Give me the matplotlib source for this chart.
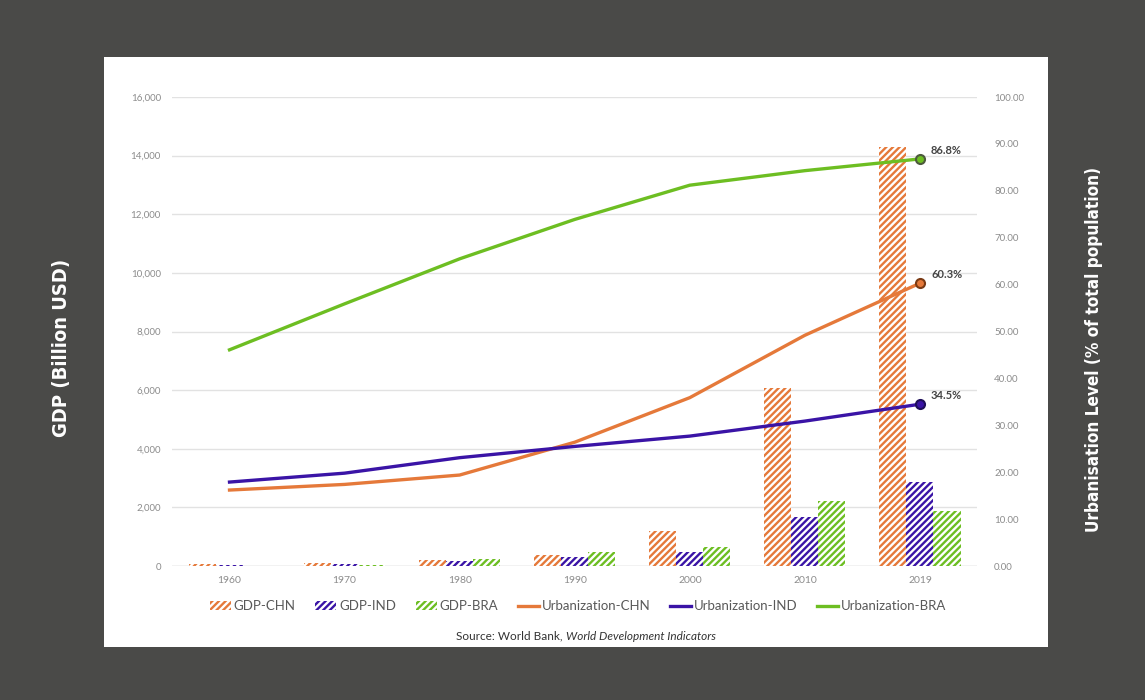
import matplotlib.pyplot as plt
from matplotlib.patches import Patch, Rectangle
from matplotlib.lines import Line2D
import numpy as np

years = ['1960', '1970', '1980', '1990', '2000', '2010', '2019']

gdp_chn = [59.7, 92.6, 191, 361, 1211, 6087, 14280]
gdp_ind = [37, 62, 186, 321, 468, 1676, 2870]
gdp_bra = [17, 42, 235, 462, 655, 2209, 1877]

urb_chn = [16.2, 17.4, 19.4, 26.4, 35.9, 49.2, 60.3]
urb_ind = [17.9, 19.8, 23.1, 25.5, 27.7, 30.9, 34.5]
urb_bra = [46.1, 55.9, 65.5, 73.9, 81.2, 84.3, 86.8]

c_chn = '#E5793A'
c_ind = '#3A14A6'
c_bra = '#6DBE22'
tick_gray = '#8c8c8c'
hatch = '/////'

plt.rcParams['hatch.linewidth'] = 1.7
plt.rcParams['font.family'] = ['Lato', 'DejaVu Sans']

fig = plt.figure(figsize=(11.45, 7.0), dpi=100, facecolor='#4a4a48')
# white panel behind the chart
fig.add_artist(Rectangle((104 / 1145, 53 / 700), 944 / 1145, 590 / 700,
                         transform=fig.transFigure, facecolor='white',
                         edgecolor='none', zorder=0))

ax = fig.add_axes([0.1502, 0.1914, 0.7035, 0.67])
ax.set_facecolor('none')
x = np.arange(len(years))
w = 0.235

for off, vals, col in [(-w, gdp_chn, c_chn), (0, gdp_ind, c_ind), (w, gdp_bra, c_bra)]:
    ax.bar(x + off, vals, width=w, facecolor='white', edgecolor=col,
           hatch=hatch, linewidth=0, zorder=2)

ax.set_ylim(0, 16000)
ax.set_xlim(-0.5, len(years) - 0.5)
ax.set_yticks(np.arange(0, 16001, 2000))
ax.set_yticklabels([f'{v:,}' for v in range(0, 16001, 2000)])
ax.grid(axis='y', color='#e2e2e2', linewidth=1.0, zorder=0)
ax.set_axisbelow(True)
ax.set_xticks(x)
ax.set_xticklabels(years)
for s in ax.spines.values():
    s.set_visible(False)
ax.axhline(0, color='#d9d9d9', linewidth=1.0, zorder=1)
ax.tick_params(axis='both', length=0, colors=tick_gray, labelsize=7)
ax.tick_params(axis='x', labelsize=7.5, pad=7)
ax.tick_params(axis='y', pad=8)

ax2 = ax.twinx()
ax2.set_ylim(0, 100)
ax2.set_yticks(np.arange(0, 101, 10))
ax2.set_yticklabels([f'{v:.2f}' for v in range(0, 101, 10)])
for s in ax2.spines.values():
    s.set_visible(False)
ax2.tick_params(axis='y', length=0, colors=tick_gray, labelsize=7, pad=12)

for vals, col, edge in [(urb_bra, c_bra, '#4d5a3c'), (urb_chn, c_chn, '#7a3a14'),
                        (urb_ind, c_ind, '#1e0e5a')]:
    ax2.plot(x, vals, color=col, linewidth=2.4, zorder=3)
    ax2.plot(x[-1], vals[-1], 'o', markersize=6.5, markerfacecolor=col,
             markeredgecolor=edge, markeredgewidth=1.5, zorder=4)
    ax2.annotate(f'{vals[-1]}%', (x[-1], vals[-1]), xytext=(8, 2),
                 textcoords='offset points', fontsize=8, color='#444444',
                 fontweight='bold', va='bottom', ha='left')

handles = [
    Patch(facecolor='white', edgecolor=c_chn, hatch=hatch, linewidth=0),
    Patch(facecolor='white', edgecolor=c_ind, hatch=hatch, linewidth=0),
    Patch(facecolor='white', edgecolor=c_bra, hatch=hatch, linewidth=0),
    Line2D([], [], color=c_chn, linewidth=2.4),
    Line2D([], [], color=c_ind, linewidth=2.4),
    Line2D([], [], color=c_bra, linewidth=2.4),
]
labels = ['GDP-CHN', 'GDP-IND', 'GDP-BRA', 'Urbanization-CHN',
          'Urbanization-IND', 'Urbanization-BRA']
leg = fig.legend(handles, labels, loc='center', bbox_to_anchor=(578 / 1145, 94 / 700),
                 ncol=6, frameon=False, fontsize=9.5, handlelength=1.6,
                 handleheight=0.6, handletextpad=0.2, columnspacing=1.5)
for t in leg.get_texts():
    t.set_color('#595959')

fig.text(566 / 1145, 64 / 700, 'Source: World Bank, ', ha='right', va='center',
         fontsize=8.5, color='#333333')
fig.text(566 / 1145, 64 / 700, 'World Development Indicators', ha='left',
         va='center', fontsize=8.5, color='#333333', style='italic')

fig.text(62 / 1145, 352 / 700, 'GDP (Billion USD)', rotation=90, ha='center',
         va='center', color='white', fontsize=14.5, fontweight='bold',
         family='DejaVu Sans', fontstretch='condensed')
fig.text(1094 / 1145, 351 / 700, 'Urbanisation Level (% of total population)',
         rotation=90, ha='center', va='center', color='white', fontsize=12.3,
         fontweight='bold', family='DejaVu Sans', fontstretch='condensed')

fig.savefig('out.png', dpi=100, facecolor=fig.get_facecolor())
